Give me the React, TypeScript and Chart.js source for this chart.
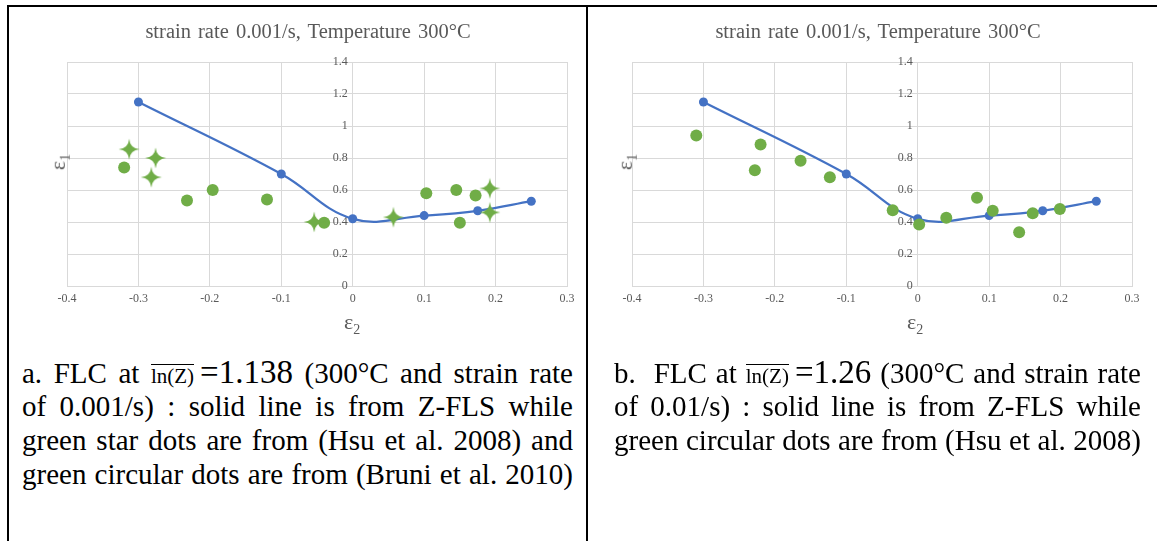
import React, { useEffect, useRef } from "react";
import { Chart, registerables } from "chart.js";

Chart.register(...registerables);

// ---------- data ----------
const xMin = -0.4;
const xMax = 0.3;
const xStep = 0.1;
const yMin = 0;
const yMax = 1.4;
const yStep = 0.2;

const chartTitle = "strain rate 0.001/s, Temperature 300°C";

// Z-FLS solid line (both panels)
const zflsX = [-0.3, -0.1, 0, 0.1, 0.175, 0.25];
const zflsY = [1.15, 0.7, 0.42, 0.44, 0.47, 0.53];

// panel a: green stars (Hsu et al. 2008)
const starAX = [-0.313, -0.276, -0.282, -0.054, 0.057, 0.192, 0.192];
const starAY = [0.855, 0.8, 0.68, 0.4, 0.43, 0.61, 0.46];

// panel a: green circles (Bruni et al. 2010)
const circAX = [-0.32, -0.232, -0.196, -0.12, -0.04, 0.103, 0.145, 0.172, 0.15];
const circAY = [0.74, 0.535, 0.6, 0.54, 0.395, 0.58, 0.6, 0.565, 0.396];

// panel b: green circles (Hsu et al. 2008)
const circBX = [-0.31, -0.22, -0.228, -0.164, -0.123, -0.035, 0.002, 0.04, 0.083, 0.105, 0.142, 0.161, 0.199];
const circBY = [0.94, 0.885, 0.723, 0.783, 0.679, 0.474, 0.385, 0.427, 0.552, 0.471, 0.336, 0.454, 0.481];

const BLUE = "#4472C4";
const GREEN = "#70AD47";
const GRID = "#D9D9D9";
const TXT = "#595959";
const SERIF = "'Liberation Serif', 'Times New Roman', serif";

const pts = (xs: number[], ys: number[]) => xs.map((x, i) => ({ x, y: ys[i] }));

function makeStar(): HTMLCanvasElement {
  const c = document.createElement("canvas");
  const s = 24;
  c.width = s;
  c.height = s;
  const ctx = c.getContext("2d")!;
  const r = 10.5;
  const k = 0.8;
  ctx.translate(s / 2, s / 2);
  ctx.fillStyle = GREEN;
  ctx.beginPath();
  ctx.moveTo(0, -r);
  ctx.quadraticCurveTo(k, -k, r, 0);
  ctx.quadraticCurveTo(k, k, 0, r);
  ctx.quadraticCurveTo(-k, k, -r, 0);
  ctx.quadraticCurveTo(-k, -k, 0, -r);
  ctx.closePath();
  ctx.fill();
  return c;
}

type Props = { left: number; top: number; withStars: boolean };

function Panel({ left, top, withStars }: Props) {
  const ref = useRef<HTMLCanvasElement | null>(null);
  useEffect(() => {
    if (!ref.current) return;
    const star = makeStar();
    const tickFmt = (v: any) => String(Math.round(Number(v) * 10) / 10);
    const datasets: any[] = [];
    if (withStars) {
      datasets.push({
        label: "Hsu",
        data: pts(starAX, starAY),
        pointStyle: star,
        pointRadius: 10,
        showLine: false,
      });
      datasets.push({
        label: "Bruni",
        data: pts(circAX, circAY),
        pointRadius: 6,
        pointBackgroundColor: GREEN,
        pointBorderWidth: 0,
        showLine: false,
      });
    } else {
      datasets.push({
        label: "Hsu",
        data: pts(circBX, circBY),
        pointRadius: 6,
        pointBackgroundColor: GREEN,
        pointBorderWidth: 0,
        showLine: false,
      });
    }
    datasets.push({
      label: "Z-FLS",
      data: pts(zflsX, zflsY),
      showLine: true,
      borderColor: BLUE,
      borderWidth: 2.25,
      tension: 0.4,
      pointRadius: 4.5,
      pointBackgroundColor: BLUE,
      pointBorderWidth: 0,
    });
    const chart = new Chart(ref.current, {
      type: "scatter",
      data: { datasets },
      options: {
        animation: false,
        responsive: false,
        events: [],
        layout: { padding: { left: 58, right: 19, top: 55, bottom: 0 } },
        plugins: { legend: { display: false }, tooltip: { enabled: false }, title: { display: false } },
        scales: {
          x: {
            type: "linear",
            min: xMin,
            max: xMax,
            afterFit: (s: any) => {
              s.height = 54;
            },
            grid: { color: GRID, drawTicks: false, lineWidth: 1 },
            border: { color: GRID },
            ticks: {
              stepSize: xStep,
              autoSkip: false,
              maxRotation: 0,
              padding: 6,
              color: TXT,
              font: { family: SERIF, size: 12 },
              callback: tickFmt,
            },
          },
          y: {
            type: "linear",
            min: yMin,
            max: yMax,
            position: { x: -0.007 } as any,
            grid: { color: GRID, drawTicks: false, lineWidth: 1 },
            border: { display: false },
            ticks: {
              stepSize: yStep,
              color: TXT,
              font: { family: SERIF, size: 12 },
              callback: tickFmt,
            },
          },
        },
      } as any,
    });
    return () => chart.destroy();
  }, [withStars]);
  return (
    <canvas
      ref={ref}
      width={577}
      height={333}
      style={{ position: "absolute", left, top, width: 577, height: 333, display: "block" }}
    />
  );
}

const abs = (o: any): any => ({ position: "absolute", ...o });

function Title({ cx }: { cx: number }) {
  return (
    <div
      style={abs({
        left: cx - 250,
        top: 20,
        width: 500,
        textAlign: "center",
        fontFamily: SERIF,
        fontSize: 20.5,
        lineHeight: "22px",
        color: TXT,
        wordSpacing: 2,
      })}
    >
      {chartTitle}
    </div>
  );
}

function Eps2({ cx }: { cx: number }) {
  return (
    <div style={abs({ left: cx - 30, top: 310, width: 60, textAlign: "center", fontFamily: SERIF, fontSize: 22, lineHeight: "24px", color: TXT })}>
      ε<sub style={{ fontSize: 14 }}>2</sub>
    </div>
  );
}

function Eps1({ cx, cy }: { cx: number; cy: number }) {
  return (
    <div
      style={abs({
        left: cx - 30,
        top: cy - 12,
        width: 60,
        textAlign: "center",
        fontFamily: SERIF,
        fontSize: 22,
        lineHeight: "24px",
        color: TXT,
        transform: "rotate(-90deg)",
      })}
    >
      ε<sub style={{ fontSize: 14 }}>1</sub>
    </div>
  );
}

function Line({ left, top, width, children }: { left: number; top: number; width: number; children: any }) {
  return (
    <div
      style={abs({
        left,
        top,
        width,
        height: 34,
        fontFamily: SERIF,
        fontSize: 29,
        lineHeight: "34px",
        color: "#000",
        textAlign: "justify",
        textAlignLast: "justify",
      })}
    >
      {children}
    </div>
  );
}

function LnZ({ value }: { value: string }) {
  return (
    <span style={{ display: "inline-block", whiteSpace: "nowrap" }}>
      <span
        style={{
          display: "inline-block",
          fontSize: 21,
          lineHeight: "21px",
          borderTop: "1.5px solid #000",
          paddingTop: 1,
        }}
      >
        ln(Z)
      </span>
      <span style={{ fontSize: 33, marginLeft: 6 }}>{value}</span>
    </span>
  );
}

export default function App() {
  return (
    <div style={abs({ left: 0, top: 0, width: 1157, height: 541, background: "#fff", overflow: "hidden" })}>
      {/* table borders */}
      <div style={abs({ left: 7, top: 5, width: 1150, height: 2, background: "#000" })} />
      <div style={abs({ left: 7, top: 5, width: 2, height: 536, background: "#000" })} />
      <div style={abs({ left: 586, top: 5, width: 2, height: 536, background: "#000" })} />

      <Panel left={9} top={7} withStars={true} />
      <Panel left={574} top={7} withStars={false} />

      <Title cx={308} />
      <Title cx={878} />
      <Eps1 cx={62} cy={158} />
      <Eps1 cx={629} cy={158} />
      <Eps2 cx={352} />
      <Eps2 cx={915} />

      <Line left={22} top={355} width={551}>
        a. FLC at <LnZ value="=1.138" /> (300°C and strain rate
      </Line>
      <Line left={22} top={389} width={551}>
        of 0.001/s) : solid line is from Z-FLS while
      </Line>
      <Line left={22} top={423} width={551}>
        green star dots are from (Hsu et al. 2008) and
      </Line>
      <Line left={22} top={457} width={551}>
        green circular dots are from (Bruni et al. 2010)
      </Line>

      <Line left={614} top={355} width={527}>
        b.&nbsp; FLC at <LnZ value="=1.26" /> (300°C and strain rate
      </Line>
      <Line left={614} top={389} width={527}>
        of 0.01/s) : solid line is from Z-FLS while
      </Line>
      <Line left={614} top={423} width={527}>
        green circular dots are from (Hsu et al. 2008)
      </Line>
    </div>
  );
}
